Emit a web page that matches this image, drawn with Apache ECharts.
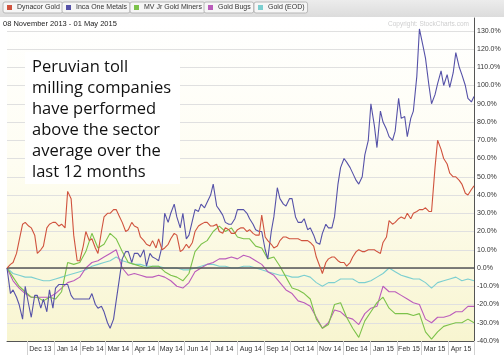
<!DOCTYPE html>
<html><head><meta charset="utf-8">
<script src="https://cdn.jsdelivr.net/npm/echarts@6.0.0/dist/echarts.min.js"></script>
<style>html,body{margin:0;padding:0;background:#fff}#c{width:504px;height:356px}</style>
</head><body><div id="c"></div>
<script>
// Weekly (Friday) sample dates
const dates = ['2013-11-08','2013-11-15','2013-11-22','2013-11-29','2013-12-06','2013-12-13','2013-12-20','2013-12-27',
'2014-01-03','2014-01-10','2014-01-17','2014-01-24','2014-01-31',
'2014-02-07','2014-02-14','2014-02-21','2014-02-28',
'2014-03-07','2014-03-14','2014-03-21','2014-03-28',
'2014-04-04','2014-04-11','2014-04-18','2014-04-25',
'2014-05-02','2014-05-09','2014-05-16','2014-05-23','2014-05-30',
'2014-06-06','2014-06-13','2014-06-20','2014-06-27',
'2014-07-04','2014-07-11','2014-07-18','2014-07-25',
'2014-08-01','2014-08-08','2014-08-15','2014-08-22','2014-08-29',
'2014-09-05','2014-09-12','2014-09-19','2014-09-26',
'2014-10-03','2014-10-10','2014-10-17','2014-10-24','2014-10-31',
'2014-11-07','2014-11-14','2014-11-21','2014-11-28',
'2014-12-05','2014-12-12','2014-12-19','2014-12-26',
'2015-01-02','2015-01-09','2015-01-16','2015-01-23','2015-01-30',
'2015-02-06','2015-02-13','2015-02-20','2015-02-27',
'2015-03-06','2015-03-13','2015-03-20','2015-03-27',
'2015-04-03','2015-04-10','2015-04-17','2015-04-24','2015-05-01'];
// Mid-week (Tuesday) sample dates, used for the two most jagged series
const midDates = ['2013-11-12','2013-11-19','2013-11-26','2013-12-03','2013-12-10','2013-12-17','2013-12-24','2013-12-31',
'2014-01-07','2014-01-14','2014-01-21','2014-01-28',
'2014-02-04','2014-02-11','2014-02-18','2014-02-25',
'2014-03-04','2014-03-11','2014-03-18','2014-03-25',
'2014-04-01','2014-04-08','2014-04-15','2014-04-22','2014-04-29',
'2014-05-06','2014-05-13','2014-05-20','2014-05-27',
'2014-06-03','2014-06-10','2014-06-17','2014-06-24',
'2014-07-01','2014-07-08','2014-07-15','2014-07-22','2014-07-29',
'2014-08-05','2014-08-12','2014-08-19','2014-08-26',
'2014-09-02','2014-09-09','2014-09-16','2014-09-23','2014-09-30',
'2014-10-07','2014-10-14','2014-10-21','2014-10-28',
'2014-11-04','2014-11-11','2014-11-18','2014-11-25',
'2014-12-02','2014-12-09','2014-12-16','2014-12-23','2014-12-30',
'2015-01-06','2015-01-13','2015-01-20','2015-01-27',
'2015-02-03','2015-02-10','2015-02-17','2015-02-24',
'2015-03-03','2015-03-10','2015-03-17','2015-03-24','2015-03-31',
'2015-04-07','2015-04-14','2015-04-21','2015-04-28'];

const dynacor = [0,3,15,25,22,8,12,24, 25,24,42,18,4, 20,16,8,28, 30,32,25,21, 23,17,13,15, 16,11,16,18,10,
  11,20,24,25, 23,20,22,19, 21,22,21,18,29, 15,11,15,17, 16,16,15,14,6, -3,5,6,3, 1,6,10,9,
  10,9,14,26,25, 28,30,30,32, 33,31,70,60, 52,50,46,40, 45];
const dynacorMid = [2,8,24,23,18,10,22,25, 23,22,38,4, 12,15,11,20, 30,32,28,20, 25,22,15,12,11,
  10,13,19,9, 13,14,23,25, 23,24,19,21,19, 22,20,19,18, 17,13,12,17,16, 16,15,15,12,
  1,3,6,4, 3,3,9,9,10, 10,8,17,24, 27,27,27,31, 32,31,55,65,57, 50,48,41,43];
const inca = [0,-12,-20,-10,-27,-15,-17,-12, -11,-9,-9,-17,-17, -17,-14,-22,-24, -33,-18,5,9, 8,6,1,6, 4,30,30,28,30,
  18,32,35,36, 46,32,25,24, 32,32,27,21,20, 5,28,38,34, 38,25,27,22,14, 19,22,28,55, 58,52,46,62,
  90,66,80,72,75, 82,72,86,131, 115,90,101,100, 99,118,106,93, 94];
const incaMid = [-14,-16,-28,-20,-15,-22,-24,-22, -9,-9,-15,-17, -17,-17,-20,-21, -30,-28,-5,9, 3,8,10,8,5,
  12,25,35,22, 16,26,31,33, 40,34,29,24,27, 32,30,24,20, 10,20,44,35,38, 28,25,21,18,
  13,24,22,46, 60,55,48,50,70, 78,86,76,70, 93,83,82,105, 122,100,95,108,106, 107,110,100,91];
const mvJr = [0,-5,-10,-13,-16,-16,-18,-16, -17,-13,3,2,3, 9,19,11,13, 19,16,9,3, 2,1,0,1, 1,-2,-4,-5,-7,
  -3,9,13,15, 20,23,20,22, 17,16,16,12,11, 5,6,1,-5, -11,-12,-14,-17,-28, -33,-31,-20,-19, -27,-33,-38,-29,
  -24,-19,-16,-22,-25, -25,-25,-26,-25, -35,-39,-35,-32, -31,-30,-30,-28, -30];
const goldBugs = [0,-7,-11,-14,-16,-16,-16,-16, -14,-11,-8,-7,-5, 0,3,4,6, 8,10,0,-4, -3,-4,-5,-5, -4,-5,-7,-10,-11,
  -8,-2,0,2, 3,5,5,6, 5,7,6,4,2, -2,-4,-8,-12, -14,-18,-19,-21,-27, -33,-30,-23,-24, -27,-28,-31,-25,
  -22,-21,-10,-13,-13, -15,-17,-19,-20, -28,-30,-27,-27, -26,-24,-24,-21, -21];
const goldEod = [0,-3,-4,-5,-5,-6,-7,-7, -6,-5,-4,-3,-2, -1,1,2,3, 4,6,4,3, 2,2,1,1, 1,0,0,0,-1,
  -1,0,1,2, 2,1,1,0, 0,1,1,0,-1, -2,-3,-4,-4, -5,-5,-4,-5,-8, -10,-8,-8,-6, -6,-6,-8,-8,
  -7,-5,-3,0,-2, -4,-5,-6,-6, -8,-11,-8,-7, -6,-5,-7,-6, -7];

const seriesNames = ['Dynacor Gold','Inca One Metals','MV Jr Gold Miners','Gold Bugs','Gold (EOD)'];
const seriesColors = ['#d0533e','#5652a8','#7cc24a','#bb5cbb','#7ccfd0'];
const monthStarts = ['2013-12-01','2014-01-01','2014-02-01','2014-03-01','2014-04-01','2014-05-01','2014-06-01',
  '2014-07-01','2014-08-01','2014-09-01','2014-10-01','2014-11-01','2014-12-01','2015-01-01','2015-02-01',
  '2015-03-01','2015-04-01','2015-05-01'];
const monthLabels = ['Dec 13','Jan 14','Feb 14','Mar 14','Apr 14','May 14','Jun 14','Jul 14','Aug 14','Sep 14',
  'Oct 14','Nov 14','Dec 14','Jan 15','Feb 15','Mar 15','Apr 15'];
const noteLines = ['Peruvian toll','milling companies','have performed','above the sector','average over the','last 12 months'];

function t(s){const p=s.split('-').map(Number);return Date.UTC(p[0],p[1]-1,p[2]);}
const tickVals = monthStarts.map(t);
const labelVals = monthLabels.map((l,i)=>(tickVals[i]+tickVals[i+1])/2);
const labelMap = {}; labelVals.forEach((v,i)=>labelMap[v]=monthLabels[i]);

function build(weekly, mid){
  const out = [];
  dates.forEach((d,j)=>{
    out.push([t(d), weekly[j]]);
    if(mid && j<midDates.length) out.push([t(midDates[j]), mid[j]]);
  });
  return out;
}
const seriesData = [build(dynacor,dynacorMid), build(inca,incaMid), build(mvJr), build(goldBugs), build(goldEod)];

const chart = echarts.init(document.getElementById('c'), null, {renderer:'canvas'});
const legendLeft = [3, 62, 130, 204, 254];
const option = {
  animation:false,
  backgroundColor:'#fff',
  grid:{left:7,right:30,top:18,bottom:15,show:true,borderWidth:0,
    backgroundColor:new echarts.graphic.LinearGradient(0,0,0,1,[{offset:0,color:'#ffffff'},{offset:0.45,color:'#fefdf2'},{offset:1,color:'#f8f5d0'}])},
  legend: seriesNames.map((n,i)=>({
    data:[{name:n,icon:'rect'}], left:legendLeft[i], top:2, orient:'horizontal',
    backgroundColor:'#f6f6f6', borderColor:'#b8b8b8', borderWidth:1, borderRadius:2,
    padding:[2,3,2,4], itemWidth:5, itemHeight:5, itemGap:0, selectedMode:false,
    textStyle:{fontSize:7, color:'#333', fontFamily:'Liberation Sans'}
  })),
  xAxis:{type:'value', min:t(dates[0]), max:t(dates[dates.length-1]),
    axisLine:{show:true,onZero:false,lineStyle:{color:'#555',width:1}},
    axisTick:{show:true,customValues:tickVals,length:14,lineStyle:{color:'#d0d0d0'}},
    axisLabel:{customValues:labelVals,formatter:(v)=>labelMap[v]||'',fontSize:7,color:'#333',margin:5,fontFamily:'Liberation Sans'},
    splitLine:{show:false}},
  yAxis:{type:'value', position:'right', min:-40, max:137, interval:10,
    axisLine:{show:true,lineStyle:{color:'#555',width:1}},
    axisTick:{show:false},
    axisLabel:{formatter:(v)=>(v%10===0&&v<=130)?v.toFixed(1)+'%':'',fontSize:7,color:'#333',margin:3,showMaxLabel:false,fontFamily:'Liberation Sans'},
    splitLine:{show:true,showMaxLine:false,lineStyle:{color:'#e0e0e0',width:1}}},
  series: seriesNames.map((n,i)=>{
    const s = {
      name:n, type:'line', showSymbol:false, symbol:'none',
      data: seriesData[i],
      lineStyle:{color:seriesColors[i],width:1.1}, itemStyle:{color:seriesColors[i]},
      z: 5-i
    };
    if(i===0) s.markLine = {silent:true,symbol:['none','none'],label:{show:false},
      lineStyle:{color:'#555',width:1.5,type:'solid'},data:[{yAxis:0}]};
    return s;
  }),
  graphic:[
    {type:'rect',z:-10,shape:{x:0,y:0,width:504,height:17},style:{fill:new echarts.graphic.LinearGradient(0,0,0,1,[{offset:0,color:'#ececec'},{offset:1,color:'#dcdcdc'}])}},
    {type:'text',z:10,style:{text:'08 November 2013 - 01 May 2015',x:3,y:24,verticalAlign:'middle',fontSize:7.5,fontFamily:'Liberation Sans',fill:'#222'}},
    {type:'text',z:10,style:{text:'Copyright: StockCharts.com',x:388,y:24,verticalAlign:'middle',fontSize:6.5,fontFamily:'Liberation Sans',fill:'#cfcfcf'}},
    {type:'rect',z:100,shape:{x:25,y:52,width:155,height:132},style:{fill:'#ffffff'}},
    ...noteLines.map((s,i)=>({type:'text',z:101,style:{text:s,x:32,y:67+i*21,verticalAlign:'middle',fontSize:16.5,fontFamily:'Open Sans',fill:'#111'}}))
  ]
};
chart.setOption(option);
</script></body></html>
